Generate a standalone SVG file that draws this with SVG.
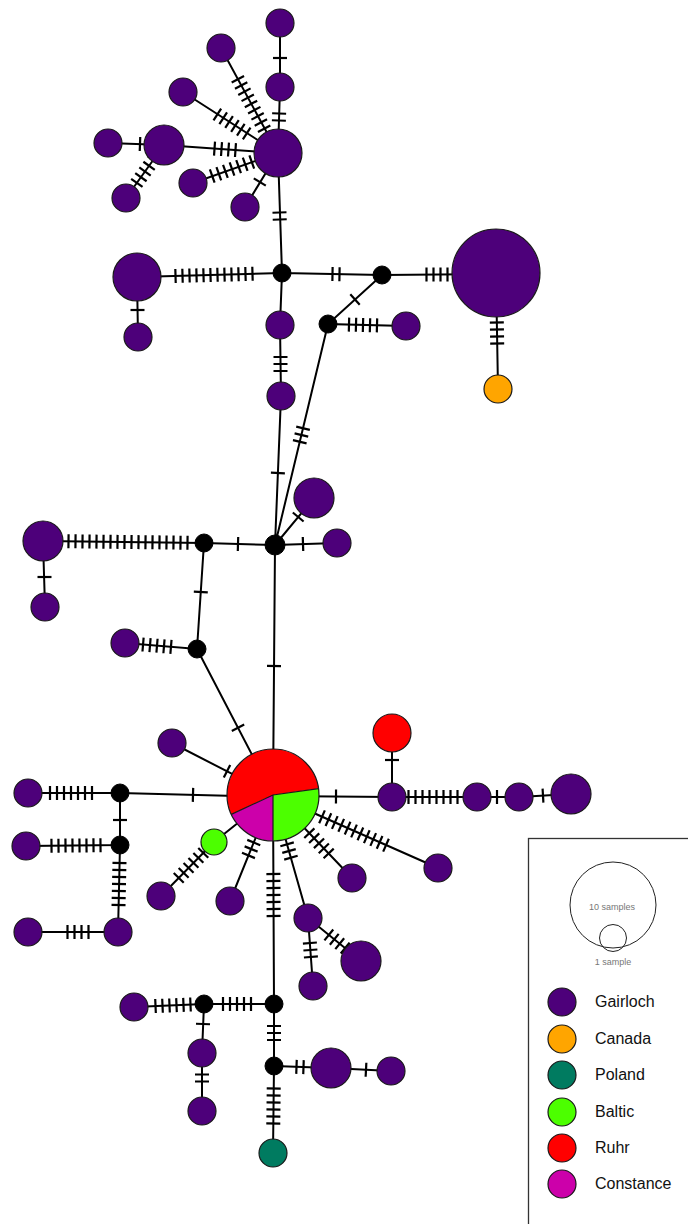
<svg xmlns="http://www.w3.org/2000/svg" width="688" height="1224" viewBox="0 0 688 1224">
<style>
.e{stroke:#000;stroke-width:2;fill:none}
.t{stroke:#000;stroke-width:2.2;fill:none}
.n{stroke:#1a1a1a;stroke-width:1.2}
.g{fill:#4d007a}
.o{fill:#ffa500}
.p{fill:#007b60}
.b{fill:#4cff00}
.r{fill:#ff0000}
.c{fill:#cc00aa}
.k{fill:#000;stroke:#000}
.lt{font-family:"Liberation Sans",Arial,sans-serif;font-size:16px;fill:#111}
.st{font-family:"Liberation Sans",Arial,sans-serif;font-size:9px;fill:#777;text-anchor:middle}
</style>
<defs>
<path id="t1" d="M0,-7v14"/>
<path id="t2" d="M-3.5,-7v14M3.5,-7v14"/>
<path id="t3" d="M-7,-7v14M0,-7v14M7,-7v14"/>
<path id="t4" d="M-10.5,-7v14M-3.5,-7v14M3.5,-7v14M10.5,-7v14"/>
<path id="t5" d="M-14,-7v14M-7,-7v14M0,-7v14M7,-7v14M14,-7v14"/>
<path id="t6" d="M-17.5,-7v14M-10.5,-7v14M-3.5,-7v14M3.5,-7v14M10.5,-7v14M17.5,-7v14"/>
<path id="t7" d="M-21,-7v14M-14,-7v14M-7,-7v14M0,-7v14M7,-7v14M14,-7v14M21,-7v14"/>
<path id="t8" d="M-24.5,-7v14M-17.5,-7v14M-10.5,-7v14M-3.5,-7v14M3.5,-7v14M10.5,-7v14M17.5,-7v14M24.5,-7v14"/>
<path id="t9" d="M-28,-7v14M-21,-7v14M-14,-7v14M-7,-7v14M0,-7v14M7,-7v14M14,-7v14M21,-7v14M28,-7v14"/>
<path id="t11" d="M-35,-7v14M-28,-7v14M-21,-7v14M-14,-7v14M-7,-7v14M0,-7v14M7,-7v14M14,-7v14M21,-7v14M28,-7v14M35,-7v14"/>
<path id="t12" d="M-38.5,-7v14M-31.5,-7v14M-24.5,-7v14M-17.5,-7v14M-10.5,-7v14M-3.5,-7v14M3.5,-7v14M10.5,-7v14M17.5,-7v14M24.5,-7v14M31.5,-7v14M38.5,-7v14"/>
<path id="t18" d="M-59.5,-7v14M-52.5,-7v14M-45.5,-7v14M-38.5,-7v14M-31.5,-7v14M-24.5,-7v14M-17.5,-7v14M-10.5,-7v14M-3.5,-7v14M3.5,-7v14M10.5,-7v14M17.5,-7v14M24.5,-7v14M31.5,-7v14M38.5,-7v14M45.5,-7v14M52.5,-7v14M59.5,-7v14"/>
</defs>
<rect width="688" height="1224" fill="#fff"/>
<g id="connectors">
<path class="e" d="M280,23L280,87L278,153M221,48L278,153M183,92L278,153M164,145L278,153M108,143L164,145M126,198L164,145M193,183L278,153M245,207L278,153M278,153L282,273M137,277L282,273M138,337L137,277M282,273L382,275L496,274L498,389M382,275L328,324L406,326M282,273L280,325L281,396L275,545M328,324L275,545M43,541L204,543L275,545M45,607L43,541M275,545L314,498M275,545L337,543M204,543L197,649L125,643M197,649L273,795M275,545L273,795M172,743L273,795M28,793L120,793L273,797M120,793L120,845L26,846M120,845L118,932L28,932M214,842L273,795M161,896L214,842M230,901L273,795M273,795L274,1004L274,1066L273,1153M273,795L308,918L313,986M308,918L361,961M273,795L352,878M273,795L438,868M273,796L392,797L392,733M392,797L477,797L519,797L571,794M274,1004L204,1004L134,1007M204,1004L202,1053L202,1111M274,1066L331,1068L391,1071"/>
<g class="t">
<use href="#t1" transform="translate(280,58) rotate(90)"/>
<use href="#t2" transform="translate(279,117) rotate(92)"/>
<use href="#t9" transform="translate(251,104) rotate(62)"/>
<use href="#t6" transform="translate(232,124) rotate(33)"/>
<use href="#t4" transform="translate(225,149.3) rotate(4)"/>
<use href="#t1" transform="translate(140,144) rotate(2)"/>
<use href="#t5" transform="translate(145,171.5) rotate(-54.4)"/>
<use href="#t7" transform="translate(232,169) rotate(-19.7)"/>
<use href="#t1" transform="translate(259.8,182) rotate(-59)"/>
<use href="#t2" transform="translate(279.6,216) rotate(88)"/>
<use href="#t12" transform="translate(214,274.9) rotate(-1.6)"/>
<use href="#t1" transform="translate(137.5,310) rotate(90)"/>
<use href="#t2" transform="translate(336,274.1) rotate(1)"/>
<use href="#t4" transform="translate(437,274.5) rotate(0)"/>
<use href="#t4" transform="translate(497,333) rotate(89)"/>
<use href="#t1" transform="translate(355,299.5) rotate(137.8)"/>
<use href="#t5" transform="translate(363,325) rotate(1.5)"/>
<use href="#t3" transform="translate(280.5,364) rotate(90)"/>
<use href="#t1" transform="translate(277.9,473) rotate(92.3)"/>
<use href="#t3" transform="translate(301.4,435) rotate(103.5)"/>
<use href="#t18" transform="translate(128,542) rotate(0.7)"/>
<use href="#t1" transform="translate(44.5,577) rotate(90)"/>
<use href="#t1" transform="translate(238,544) rotate(1.6)"/>
<use href="#t1" transform="translate(298.2,517) rotate(-50.3)"/>
<use href="#t1" transform="translate(303,544) rotate(-1.8)"/>
<use href="#t1" transform="translate(200.8,592) rotate(93.8)"/>
<use href="#t5" transform="translate(157,645.7) rotate(4.8)"/>
<use href="#t1" transform="translate(238,727.8) rotate(62.5)"/>
<use href="#t1" transform="translate(274,666) rotate(90.5)"/>
<use href="#t1" transform="translate(227,771.3) rotate(27.2)"/>
<use href="#t1" transform="translate(193,794.9) rotate(1.5)"/>
<use href="#t7" transform="translate(71,793) rotate(0)"/>
<use href="#t1" transform="translate(120,820) rotate(90)"/>
<use href="#t8" transform="translate(76,845.5) rotate(-0.6)"/>
<use href="#t7" transform="translate(119,884) rotate(91.3)"/>
<use href="#t4" transform="translate(78,932) rotate(0)"/>
<use href="#t6" transform="translate(191,865.4) rotate(-45.5)"/>
<use href="#t3" transform="translate(251.1,849) rotate(-67.9)"/>
<use href="#t7" transform="translate(273.5,895) rotate(89.7)"/>
<use href="#t3" transform="translate(289,851) rotate(74.1)"/>
<use href="#t3" transform="translate(310.4,950) rotate(85.8)"/>
<use href="#t4" transform="translate(337,941.5) rotate(39)"/>
<use href="#t5" transform="translate(319,843.3) rotate(46.4)"/>
<use href="#t11" transform="translate(354,831) rotate(23.9)"/>
<use href="#t1" transform="translate(336,796.5) rotate(0.5)"/>
<use href="#t1" transform="translate(392,760) rotate(90)"/>
<use href="#t8" transform="translate(433,797) rotate(0)"/>
<use href="#t1" transform="translate(497,797) rotate(0)"/>
<use href="#t1" transform="translate(543,795.6) rotate(-3.3)"/>
<use href="#t5" transform="translate(237,1004) rotate(0)"/>
<use href="#t6" transform="translate(173,1005.3) rotate(-2.5)"/>
<use href="#t1" transform="translate(203,1024) rotate(92)"/>
<use href="#t2" transform="translate(202,1078) rotate(90)"/>
<use href="#t3" transform="translate(274,1033) rotate(90)"/>
<use href="#t2" transform="translate(300,1067) rotate(2)"/>
<use href="#t1" transform="translate(366,1069.7) rotate(2.9)"/>
<use href="#t6" transform="translate(273.5,1106) rotate(90.7)"/>
</g>
</g>
<g id="n-A"><circle class="n g" cx="278" cy="153" r="24"/></g>
<g id="n-A1"><circle class="n g" cx="280" cy="23" r="14"/></g>
<g id="n-A2"><circle class="n g" cx="280" cy="87" r="14"/></g>
<g id="n-A3"><circle class="n g" cx="221" cy="48" r="14"/></g>
<g id="n-A4"><circle class="n g" cx="183" cy="92" r="14"/></g>
<g id="n-A5"><circle class="n g" cx="164" cy="145" r="20"/></g>
<g id="n-A6"><circle class="n g" cx="108" cy="143" r="14"/></g>
<g id="n-A7"><circle class="n g" cx="126" cy="198" r="14"/></g>
<g id="n-A8"><circle class="n g" cx="193" cy="183" r="14"/></g>
<g id="n-A9"><circle class="n g" cx="245" cy="207" r="14"/></g>
<g id="m1"><circle class="k" cx="282" cy="273" r="9"/></g>
<g id="n-B"><circle class="n g" cx="137" cy="277" r="24"/></g>
<g id="n-B1"><circle class="n g" cx="138" cy="337" r="14"/></g>
<g id="m2"><circle class="k" cx="382" cy="275" r="9"/></g>
<g id="n-C"><circle class="n g" cx="496" cy="273" r="44"/></g>
<g id="n-C1"><circle class="n o" cx="498" cy="389" r="14"/></g>
<g id="m3"><circle class="k" cx="328" cy="324" r="9"/></g>
<g id="n-D1"><circle class="n g" cx="406" cy="326" r="14"/></g>
<g id="n-E1"><circle class="n g" cx="280" cy="325" r="14"/></g>
<g id="n-E2"><circle class="n g" cx="281" cy="396" r="14"/></g>
<g id="m4"><circle class="k" cx="275" cy="545" r="10"/></g>
<g id="n-F"><circle class="n g" cx="43" cy="541" r="20"/></g>
<g id="n-F1"><circle class="n g" cx="45" cy="607" r="14"/></g>
<g id="m5"><circle class="k" cx="204" cy="543" r="9"/></g>
<g id="n-G1"><circle class="n g" cx="314" cy="498" r="20"/></g>
<g id="n-G2"><circle class="n g" cx="337" cy="543" r="14"/></g>
<g id="m6"><circle class="k" cx="197" cy="649" r="9"/></g>
<g id="n-H1"><circle class="n g" cx="125" cy="643" r="14"/></g>
<g id="n-Z">
<path class="r" d="M273,795L318.6,788.6A46,46 0 1 0 231.3,814.4Z"/>
<path class="b" d="M273,795L318.6,788.6A46,46 0 0 1 273,841Z"/>
<path class="c" d="M273,795L273,841A46,46 0 0 1 231.3,814.4Z"/>
<path d="M231.3,814.4L273,795L318.6,788.6M273,795L273,841" stroke="#1a1a1a" stroke-width="1.2" fill="none"/>
<circle cx="273" cy="795" r="46" fill="none" stroke="#1a1a1a" stroke-width="1.2"/>
</g>
<g id="n-I1"><circle class="n g" cx="172" cy="743" r="14"/></g>
<g id="m7"><circle class="k" cx="120" cy="793" r="9"/></g>
<g id="n-I2"><circle class="n g" cx="28" cy="793" r="14"/></g>
<g id="m8"><circle class="k" cx="120" cy="845" r="9"/></g>
<g id="n-I3"><circle class="n g" cx="26" cy="846" r="14"/></g>
<g id="n-I4"><circle class="n g" cx="118" cy="932" r="14"/></g>
<g id="n-I5"><circle class="n g" cx="28" cy="932" r="14"/></g>
<g id="n-Gr"><circle class="n b" cx="214" cy="842" r="13"/></g>
<g id="n-J1"><circle class="n g" cx="161" cy="896" r="14"/></g>
<g id="n-J2"><circle class="n g" cx="230" cy="901" r="14"/></g>
<g id="n-K1"><circle class="n g" cx="308" cy="918" r="14"/></g>
<g id="n-K2"><circle class="n g" cx="313" cy="986" r="14"/></g>
<g id="n-K3"><circle class="n g" cx="361" cy="961" r="20"/></g>
<g id="n-L1"><circle class="n g" cx="352" cy="878" r="14"/></g>
<g id="n-L2"><circle class="n g" cx="438" cy="868" r="14"/></g>
<g id="n-N1"><circle class="n g" cx="392" cy="797" r="14"/></g>
<g id="n-N2"><circle class="n r" cx="392" cy="733" r="19"/></g>
<g id="n-N3"><circle class="n g" cx="477" cy="797" r="14"/></g>
<g id="n-N4"><circle class="n g" cx="519" cy="797" r="14"/></g>
<g id="n-N5"><circle class="n g" cx="571" cy="794" r="20"/></g>
<g id="m9"><circle class="k" cx="274" cy="1004" r="9"/></g>
<g id="m10"><circle class="k" cx="204" cy="1004" r="9"/></g>
<g id="n-P1"><circle class="n g" cx="134" cy="1007" r="14"/></g>
<g id="n-P2"><circle class="n g" cx="202" cy="1053" r="14"/></g>
<g id="n-P3"><circle class="n g" cx="202" cy="1111" r="14"/></g>
<g id="m11"><circle class="k" cx="274" cy="1066" r="9"/></g>
<g id="n-Q1"><circle class="n g" cx="331" cy="1068" r="20"/></g>
<g id="n-Q2"><circle class="n g" cx="391" cy="1071" r="14"/></g>
<g id="n-T"><circle class="n p" cx="273" cy="1153" r="14"/></g>
<g id="legend">
<rect x="528.5" y="838.5" width="200" height="420" fill="#fff" stroke="#333" stroke-width="1.3"/>
<circle cx="613" cy="905" r="43" fill="none" stroke="#222" stroke-width="1"/>
<circle cx="613" cy="938" r="13.5" fill="none" stroke="#222" stroke-width="1"/>
<text class="st" x="612" y="910">10 samples</text>
<text class="st" x="613" y="965">1 sample</text>
<circle class="n g" cx="562" cy="1002" r="14"/>
<circle class="n o" cx="562" cy="1039" r="14"/>
<circle class="n p" cx="562" cy="1075" r="14"/>
<circle class="n b" cx="562" cy="1112" r="14"/>
<circle class="n r" cx="562" cy="1148" r="14"/>
<circle class="n c" cx="562" cy="1184" r="14"/>
<text class="lt" x="595" y="1007">Gairloch</text>
<text class="lt" x="595" y="1044">Canada</text>
<text class="lt" x="595" y="1080">Poland</text>
<text class="lt" x="595" y="1117">Baltic</text>
<text class="lt" x="595" y="1153">Ruhr</text>
<text class="lt" x="595" y="1189">Constance</text>
</g>
</svg>
